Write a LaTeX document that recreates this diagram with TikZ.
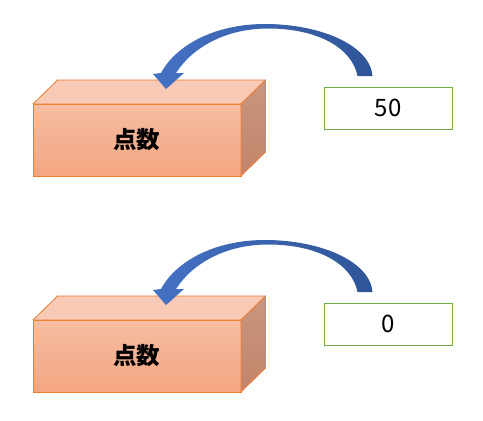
\documentclass[tikz,border=0pt]{standalone}
\usepackage{fontspec}
\newfontfamily\cjk{Noto Sans CJK JP}
\usetikzlibrary{calc}
\definecolor{boxline}{HTML}{ED7D31}
\definecolor{fronttop}{HTML}{F6BEA3}
\definecolor{frontbot}{HTML}{F4A580}
\definecolor{topface}{HTML}{F8CAB5}
\definecolor{sidetop}{HTML}{C9967F}
\definecolor{sidebot}{HTML}{C2856A}
\definecolor{valline}{HTML}{70AD47}
\definecolor{arrowlight}{HTML}{4472C4}
\definecolor{arrowdark}{HTML}{2F5597}
\tikzset{
  frontface/.style={draw=boxline, line width=0.8pt, top color=fronttop, bottom color=frontbot,
    minimum width=208pt, minimum height=72pt, inner sep=0pt, outer sep=0pt,
    font=\cjk\bfseries\fontsize{23.5}{27}\selectfont},
  topfc/.style={draw=boxline, line width=0.8pt, fill=topface, line join=round},
  sidefc/.style={draw=boxline, line width=0.8pt, top color=sidetop, bottom color=sidebot, line join=round},
  valbox/.style={draw=valline, line width=0.8pt, fill=white, minimum width=128pt, minimum height=42pt,
    inner sep=0pt, outer sep=0pt, font=\cjk\fontsize{24}{28}\selectfont},
  bluearrow/.style={left color=arrowlight, right color=arrowdark, draw=none}
}
\begin{document}
\begin{tikzpicture}[x=1pt,y=-1pt]
\useasboundingbox (0,0) rectangle (483,421);
\foreach \dy/\val/\n in {0/50/a,216/0/b}{
  \begin{scope}[yshift=-\dy pt]
    \node[frontface] (front\n) at (137,140) {点数};
    \path[topfc] (front\n.north west) -- ++(24.5,-24) -- ($(front\n.north east)+(24.5,-24)$) -- (front\n.north east) -- cycle;
    \path[sidefc] (front\n.north east) -- ++(24.5,-24) -- ($(front\n.south east)+(24.5,-24)$) -- (front\n.south east) -- cycle;
    \node[valbox] (val\n) at (388,108) {\val};
    \coordinate (tail\n) at (365,76);
    \coordinate (head\n) at (166,89);
    \path[bluearrow] ($(tail\n)+(7.5,0)$)
      .. controls (370,45) and (320,24) .. (265,24)
      .. controls (215,24) and (176,45) .. (161,73)
      -- (153,74) -- (head\n) -- (184,73) -- (176,73)
      .. controls (192,48) and (225,28.5) .. (268,28.5)
      .. controls (318,28.5) and (352,48) .. ($(tail\n)+(-7.5,0)$) -- cycle;
  \end{scope}
}
\end{tikzpicture}
\end{document}
